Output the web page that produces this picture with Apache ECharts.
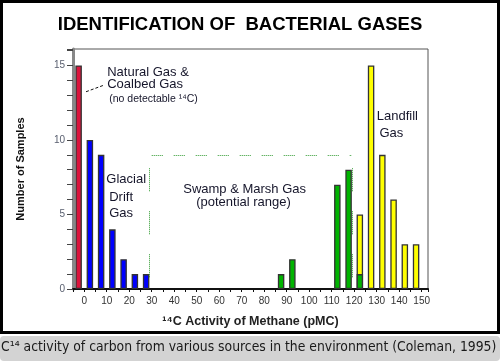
<!DOCTYPE html>
<html><head><meta charset="utf-8">
<script src="https://cdn.jsdelivr.net/npm/echarts@6/dist/echarts.min.js"></script>
<style>html,body{margin:0;padding:0;background:#fff}#c{width:502px;height:361px}</style>
</head><body><div id="c"></div>
<script>
// ---- data (pMC bin centre, number of samples) ----
const naturalGas   = [[-2.5, 15]];
const glacialDrift = [[2.5, 10], [7.5, 9], [12.5, 4], [17.5, 2], [22.5, 1], [27.5, 1]];
const landfill     = [[122.5, 5], [127.5, 15], [132.5, 9], [137.5, 6], [142.5, 3], [147.5, 3]];
const swampMarsh   = [[87.5, 1], [92.5, 2], [112.5, 7], [117.5, 8], [122.5, 1]];
const xTickLabels  = [0, 10, 20, 30, 40, 50, 60, 70, 80, 90, 100, 110, 120, 130, 140, 150];
const yTickLabels  = [0, 5, 10, 15];
// swamp & marsh potential range box (pMC from, pMC to, samples level)
const swampRangeX  = [30, 119];
const swampRangeTop = 9;
const swampSideTop = 8.1, swampSideBottom = 0.55;
// annotations: [text, x(pMC), y(samples), align, fontSize]
const annotations = [
  ['Natural Gas &', 10.2, 14.55, 'left', 13],
  ['Coalbed Gas', 10.2, 13.7, 'left', 13],
  ['(no detectable \u00B9\u2074C)', 11.1, 12.75, 'left', 10.5],
  ['Glacial', 9.8, 7.36, 'left', 13],
  ['Drift', 11.1, 6.17, 'left', 13],
  ['Gas', 11.1, 5.09, 'left', 13],
  ['Swamp & Marsh Gas', 71.3, 6.67, 'center', 13],
  ['(potential range)', 70.8, 5.83, 'center', 13],
  ['Landfill', 130, 11.57, 'left', 13],
  ['Gas', 131.2, 10.47, 'left', 13]
];
const arrowFrom = [8.3, 13.65], arrowTo = [0.2, 13.2];

function dotted(onLen, gap) {
  const a = [];
  for (let i = 0; i < Math.round(onLen / 2); i++) a.push(1, 1);
  a[a.length - 1] = gap;
  return a;
}
const green = '#2f9a2f';

const chart = echarts.init(document.getElementById('c'), null, {renderer: 'canvas'});
const barCommon = {
  type: 'bar', barWidth: 6.5, barGap: '-100%', animation: false,
  itemStyle: {borderColor: '#333', borderWidth: 1.3}
};
chart.setOption({
  animation: false,
  grid: {left: 73, right: 74, top: 49, bottom: 72, show: true, borderColor: '#555', borderWidth: 1},
  xAxis: {
    type: 'value', min: -5, max: 152.8, interval: 5,
    name: '\u00B9\u2074C Activity of Methane (pMC)', nameLocation: 'middle', nameGap: 26,
    nameTextStyle: {fontFamily: 'Liberation Sans', fontSize: 12.5, fontWeight: 'bold', color: '#222'},
    axisLine: {onZero: false, lineStyle: {color: '#111', width: 2}},
    axisTick: {length: 3, lineStyle: {color: '#111', width: 1}},
    splitLine: {show: false},
    axisLabel: {
      fontFamily: 'Liberation Sans', fontSize: 10, color: '#333', margin: 7,
      showMinLabel: true, showMaxLabel: true,
      formatter: v => xTickLabels.indexOf(Math.round(v)) >= 0 && Math.abs(v - Math.round(v)) < 1e-6 ? String(Math.round(v)) : ''
    }
  },
  yAxis: {
    type: 'value', min: 0, max: 16.1, interval: 1,
    name: 'Number of Samples', nameLocation: 'middle', nameGap: 47, nameRotate: 90,
    nameTextStyle: {fontFamily: 'Liberation Sans', fontSize: 11, fontWeight: 'bold', color: '#111'},
    axisLine: {show: true, onZero: false, lineStyle: {color: '#888', width: 3}},
    axisTick: {show: true, length: 6, lineStyle: {color: '#444', width: 1}},
    splitLine: {show: false},
    axisLabel: {
      fontFamily: 'Liberation Sans', fontSize: 10, color: '#5a6070', margin: 8,
      formatter: v => yTickLabels.indexOf(v) >= 0 ? String(v) : ''
    }
  },
  series: [
    Object.assign({}, barCommon, {name: 'Natural Gas', data: naturalGas, itemStyle: Object.assign({}, barCommon.itemStyle, {color: '#dc143c'})}),
    Object.assign({}, barCommon, {name: 'Glacial Drift', data: glacialDrift, itemStyle: Object.assign({}, barCommon.itemStyle, {color: '#0000ff'})}),
    Object.assign({}, barCommon, {name: 'Landfill', data: landfill, itemStyle: Object.assign({}, barCommon.itemStyle, {color: '#ffff00'})}),
    Object.assign({}, barCommon, {name: 'Swamp & Marsh', data: swampMarsh, itemStyle: Object.assign({}, barCommon.itemStyle, {color: '#00b400'}),
      markLine: {
        silent: true, symbol: 'none', animation: false, label: {show: false},
        data: [
          [{coord: [swampRangeX[0], swampRangeTop], lineStyle: {type: dotted(11, 11), color: green, width: 1}},
           {coord: [swampRangeX[1], swampRangeTop]}],
          [{coord: [swampRangeX[0] - 0.9, swampSideTop], lineStyle: {type: dotted(23, 20), color: green, width: 1}},
           {coord: [swampRangeX[0] - 0.9, swampSideBottom]}],
          [{coord: [swampRangeX[1], swampSideTop], lineStyle: {type: dotted(23, 20), color: green, width: 1}},
           {coord: [swampRangeX[1], swampSideBottom]}]
        ]
      }
    }),
    {
      type: 'line', data: [], silent: true,
      markLine: {
        silent: true, animation: false, label: {show: false},
        symbol: ['none', 'arrow'], symbolSize: [0, 7],
        lineStyle: {type: [3, 2], color: '#111', width: 1},
        data: [[{coord: arrowFrom}, {coord: arrowTo}]]
      }
    }
  ]
});

function drawGraphics() {
  const g = [
    {type: 'rect', shape: {x: 1.5, y: 1.5, width: 497, height: 331}, style: {fill: 'none', stroke: '#000', lineWidth: 3}, z: 100},
    {type: 'rect', shape: {x: 0, y: 336, width: 500, height: 25, r: 4}, style: {fill: '#d3d3d3'}, z: 1},
    {type: 'text', x: 1, y: 347, style: {text: 'C\u00B9\u2074 activity of carbon from various sources in the environment (Coleman, 1995)', font: '13.8px "DejaVu Sans Condensed", "DejaVu Sans", sans-serif', fill: '#1a1a1a', verticalAlign: 'middle', align: 'left'}, z: 2},
    {type: 'text', x: 240, y: 25, style: {text: 'IDENTIFICATION OF  BACTERIAL GASES', font: 'bold 18.5px "Liberation Sans", Arial, sans-serif', fill: '#000', align: 'center', verticalAlign: 'middle'}, z: 10}
  ];
  annotations.forEach(a => {
    const p = chart.convertToPixel({gridIndex: 0}, [a[1], a[2]]);
    g.push({type: 'text', x: p[0], y: p[1], style: {text: a[0], font: a[4] + 'px "Liberation Sans", Arial, sans-serif', fill: '#15152a', align: a[3], verticalAlign: 'middle'}, z: 10});
  });
  chart.setOption({graphic: g});
}
drawGraphics();
</script></body></html>
